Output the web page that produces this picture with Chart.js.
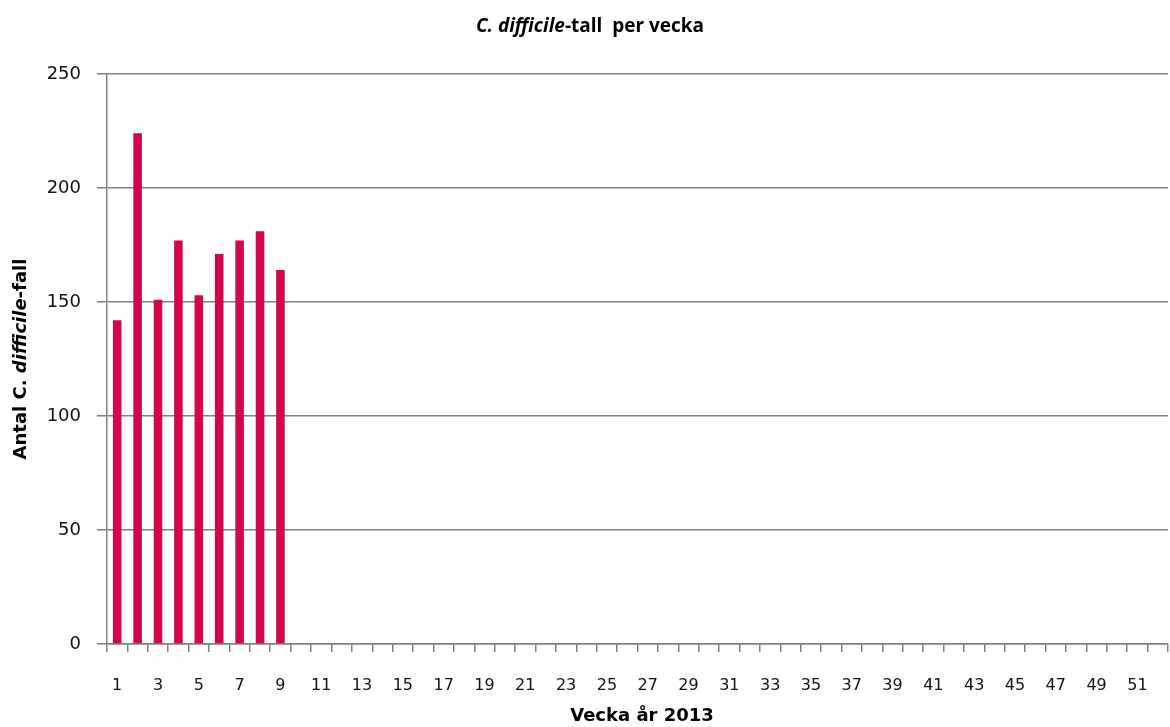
<!DOCTYPE html>
<html>
<head>
<meta charset="utf-8">
<script src="https://cdn.jsdelivr.net/npm/chart.js@4/dist/chart.umd.min.js"></script>
<style>
  html, body { margin: 0; padding: 0; background: #fff; }
  #wrap { width: 1170px; height: 727px; }
</style>
</head>
<body>
<div id="wrap"><canvas id="chart" width="1170" height="727"></canvas></div>
<script>
// weeks 1..52, only the first nine have data
const weeks = [];
for (let w = 1; w <= 52; w++) weeks.push(String(w));
const cases = [142, 224, 151, 177, 153, 171, 177, 181, 164];
const yTicks = [0, 50, 100, 150, 200, 250];

const titleParts = [['C. difficile', true], ['-tall  per vecka', false]];
const yTitleParts = [['Antal C. ', false], ['difficile', true], ['-fall', false]];
const xTitle = 'Vecka år 2013';

// draws a line of text where some parts are italic
function drawParts(ctx, parts, size, family) {
    let total = 0;
    parts.forEach(p => {
        ctx.font = (p[1] ? 'italic ' : '') + 'bold ' + size + 'px ' + family;
        total += ctx.measureText(p[0]).width;
    });
    let x = -total / 2;
    parts.forEach(p => {
        ctx.font = (p[1] ? 'italic ' : '') + 'bold ' + size + 'px ' + family;
        ctx.fillText(p[0], x, 0);
        x += ctx.measureText(p[0]).width;
    });
}

const titles = {
    id: 'titles',
    afterDraw(chart) {
        const ctx = chart.ctx;
        ctx.save();
        ctx.fillStyle = '#000';
        ctx.textBaseline = 'middle';
        ctx.textAlign = 'left';

        ctx.save();
        ctx.translate(590, 27);
        drawParts(ctx, titleParts, 19, '"Open Sans"');
        ctx.restore();

        ctx.save();
        ctx.translate(21, 359);
        ctx.rotate(-Math.PI / 2);
        drawParts(ctx, yTitleParts, 18, '"DejaVu Sans"');
        ctx.restore();

        ctx.save();
        ctx.translate(642, 716);
        drawParts(ctx, [[xTitle, false]], 18, '"DejaVu Sans"');
        ctx.restore();

        ctx.restore();
    }
};

new Chart(document.getElementById('chart'), {
    type: 'bar',
    data: {
        labels: weeks,
        datasets: [{
            data: cases,
            backgroundColor: '#d3064c',
            borderWidth: 0,
            categoryPercentage: 1,
            barPercentage: 0.42
        }]
    },
    options: {
        responsive: false,
        animation: false,
        layout: { padding: { top: 74, right: 2, left: 0, bottom: 0 } },
        plugins: {
            legend: { display: false },
            tooltip: { enabled: false }
        },
        scales: {
            x: {
                grid: {
                    display: true,
                    drawOnChartArea: false,
                    offset: true,
                    color: '#808080',
                    lineWidth: 1.5,
                    tickLength: 8
                },
                border: { color: '#808080', width: 1.5 },
                ticks: {
                    autoSkip: false,
                    maxRotation: 0,
                    color: '#111',
                    padding: 24,
                    font: { family: '"DejaVu Sans"', size: 16 },
                    callback: (v, i) => (i % 2 === 0 ? weeks[i] : '')
                },
                afterFit(scale) {
                    scale.height = 83;
                    scale.paddingLeft = 0;
                    scale.paddingRight = 0;
                }
            },
            y: {
                min: 0,
                max: 250,
                afterBuildTicks(scale) {
                    scale.ticks = yTicks.map(v => ({ value: v }));
                },
                grid: {
                    color: '#808080',
                    lineWidth: 1.5,
                    tickLength: 10
                },
                border: { color: '#808080', width: 1.5 },
                ticks: {
                    color: '#111',
                    padding: 16,
                    font: { family: '"DejaVu Sans"', size: 18 }
                },
                afterFit(scale) {
                    scale.width = 107;
                    scale.paddingTop = 0;
                    scale.paddingBottom = 0;
                }
            }
        }
    },
    plugins: [titles]
});
</script>
</body>
</html>
